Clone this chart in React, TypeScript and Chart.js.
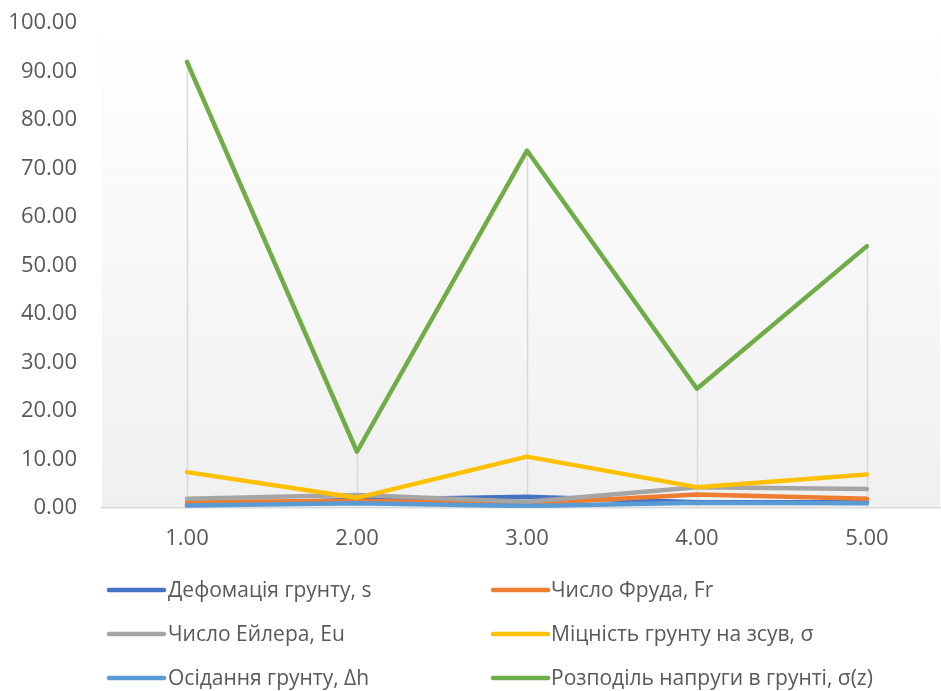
import React, { useEffect, useRef } from "react";
import { Chart, registerables } from "chart.js";

Chart.register(...registerables);

const categories = [1, 2, 3, 4, 5];
const yTicks = [0, 10, 20, 30, 40, 50, 60, 70, 80, 90, 100];

const seriesNames = [
  "Дефомація грунту, s",
  "Число Фруда, Fr",
  "Число Ейлера, Eu",
  "Міцність грунту на зсув, σ",
  "Осідання грунту, Δh",
  "Розподіль напруги в грунті, σ(z)",
];
const seriesColors = ["#4472c4", "#ed7d31", "#a5a5a5", "#ffc000", "#5b9bd5", "#70ad47"];

const deformation = [0.6, 1.7, 2.3, 1.2, 1.2];
const froude = [1.2, 1.5, 0.9, 2.8, 1.9];
const euler = [1.9, 2.7, 1.3, 4.3, 3.9];
const strength = [7.4, 2.1, 10.6, 4.3, 6.9];
const settlement = [0.5, 1.0, 0.4, 1.1, 1.0];
const stress = [92.0, 11.6, 73.7, 24.6, 54.0];

const seriesValues = [deformation, froude, euler, strength, settlement, stress];

const AXIS_FONT = { family: "'Open Sans', sans-serif", size: 22 };
const LEGEND_FONT = "21px 'Liberation Sans Narrow', 'Open Sans', sans-serif";

const bgPlugin = {
  id: "plotBg",
  beforeDraw(chart: any) {
    const { ctx, chartArea } = chart;
    const g = ctx.createLinearGradient(0, chartArea.top, 0, chartArea.bottom);
    g.addColorStop(0, "#ffffff");
    g.addColorStop(1, "#f0f0f0");
    ctx.save();
    ctx.fillStyle = g;
    ctx.fillRect(chartArea.left, chartArea.top, chartArea.right - chartArea.left, chartArea.bottom - chartArea.top);
    ctx.restore();
  },
  beforeDatasetsDraw(chart: any) {
    const { ctx, scales } = chart;
    const xs = scales.x;
    const ys = scales.y;
    ctx.save();
    ctx.strokeStyle = "#d9d9d9";
    ctx.lineWidth = 1.5;
    categories.forEach((c, i) => {
      const maxV = Math.max(...seriesValues.map((s) => s[i]));
      const px = Math.round(xs.getPixelForValue(c)) + 0.5;
      ctx.beginPath();
      ctx.moveTo(px, ys.getPixelForValue(maxV));
      ctx.lineTo(px, ys.getPixelForValue(0));
      ctx.stroke();
    });
    ctx.restore();
  },
  afterDraw(chart: any) {
    const { ctx } = chart;
    const colLine = [109, 493];
    const colText = [168, 551];
    const rowY = [590, 634, 678];
    ctx.save();
    chart.data.datasets.forEach((ds: any, i: number) => {
      const col = i % 2;
      const row = Math.floor(i / 2);
      const y = rowY[row];
      ctx.strokeStyle = ds.borderColor;
      ctx.lineWidth = 4.5;
      ctx.lineCap = "round";
      ctx.beginPath();
      ctx.moveTo(colLine[col], y);
      ctx.lineTo(colLine[col] + 55, y);
      ctx.stroke();
      ctx.fillStyle = "#595959";
      ctx.font = LEGEND_FONT;
      ctx.textBaseline = "middle";
      ctx.textAlign = "left";
      ctx.fillText(ds.label, colText[col], y + 1);
    });
    ctx.restore();
  },
};

export default function App() {
  const ref = useRef<HTMLCanvasElement | null>(null);
  useEffect(() => {
    document.body.style.margin = "0";
    document.body.style.overflow = "hidden";
    if (!ref.current) return;
    const datasets = seriesNames.map((name, i) => ({
      label: name,
      data: categories.map((c, j) => ({ x: c, y: seriesValues[i][j] })),
      borderColor: seriesColors[i],
      backgroundColor: seriesColors[i],
      borderWidth: 4.5,
      pointRadius: 0,
      tension: 0,
      borderCapStyle: "round" as const,
      borderJoinStyle: "round" as const,
      order: seriesNames.length - 1 - i,
    }));
    const chart = new Chart(ref.current, {
      type: "line",
      data: { datasets },
      plugins: [bgPlugin],
      options: {
        animation: false,
        responsive: false,
        devicePixelRatio: 1,
        layout: { padding: { top: 23, right: 1, bottom: 133, left: 0 } },
        plugins: { legend: { display: false }, tooltip: { enabled: false } },
        scales: {
          x: {
            type: "linear",
            min: 0.5,
            max: 5.43,
            afterBuildTicks: (s: any) => {
              s.ticks = categories.map((v) => ({ value: v }));
            },
            afterFit: (s: any) => {
              s.height = 50;
              s.paddingLeft = 0;
              s.paddingRight = 0;
            },
            grid: { display: false },
            border: { display: true, color: "#d9d9d9", width: 1.5 },
            ticks: {
              padding: 10,
              color: "#595959",
              font: AXIS_FONT,
              maxRotation: 0,
              autoSkip: false,
              callback: (v: any) => Number(v).toFixed(2),
            },
          },
          y: {
            min: 0,
            max: 100,
            afterBuildTicks: (s: any) => {
              s.ticks = yTicks.map((v) => ({ value: v }));
            },
            afterFit: (s: any) => {
              s.width = 102;
              s.paddingTop = 0;
              s.paddingBottom = 0;
            },
            grid: { display: false },
            border: { display: false },
            ticks: {
              padding: 17,
              color: "#595959",
              font: AXIS_FONT,
              callback: (v: any) => Number(v).toFixed(2),
            },
          },
        },
      },
    });
    return () => chart.destroy();
  }, []);
  return <canvas ref={ref} width={941} height={691} style={{ display: "block" }} />;
}
